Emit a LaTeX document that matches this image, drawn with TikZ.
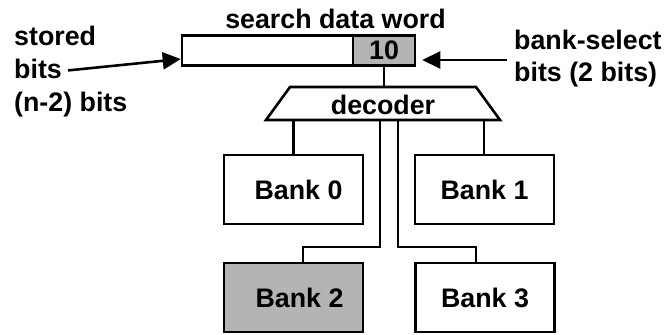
\documentclass[tikz,border=0pt]{standalone}
\usepackage{fontspec}
\setmainfont{Liberation Sans}
\usetikzlibrary{arrows.meta,calc}
\definecolor{grayfill}{HTML}{B4B4B4}
\begin{document}
\begin{tikzpicture}[x=1pt,y=-1pt,
  every node/.style={font=\fontsize{26.8}{30}\selectfont\bfseries},
  box/.style={draw, line width=2.6pt, inner sep=0pt},
  bank/.style={box, minimum width=139pt, minimum height=69pt, fill=white},
  txt/.style={inner sep=0pt},
  wire/.style={line width=2.6pt},
  arr/.style={line width=2.6pt, -{Triangle[length=18pt,width=17pt]}}]
\useasboundingbox (0,0) rectangle (668,334);
% search data word
\node[txt, anchor=base] (title) at (335.5,29) {search data word};
\node[box, minimum width=171pt, minimum height=30pt] (word) at (267.5,50.5) {};
\node[box, fill=grayfill, minimum width=62pt, minimum height=30pt] (sel) at (384,50.5) {10};
% labels
\node[txt, anchor=base west] (l1) at (14,46) {stored};
\node[txt, anchor=base west] (l2) at (14,79) {bits};
\node[txt, anchor=base west] (l3) at (14,111) {(n-2) bits};
\node[txt, anchor=base west] (r1) at (514,50) {bank-select};
\node[txt, anchor=base west] (r2) at (514,82) {bits (2 bits)};
\coordinate (rtail) at (507,60);
% decoder
\coordinate (dtl) at (290,87);
\coordinate (dtr) at (476,87);
\coordinate (dbr) at (500,120);
\coordinate (dbl) at (266,120);
\draw[wire, line join=miter] (dtl) -- (dtr) -- (dbr) -- (dbl) -- cycle;
\node[txt, anchor=base] (dec) at (383,114) {decoder};
\coordinate (d0) at (293.5,120);
\coordinate (d1) at (484,120);
\coordinate (d2) at (380,120);
\coordinate (d3) at (398,120);
% banks
\node[bank] (b0) at (293.5,189.5) {\hspace*{10pt}Bank 0};
\node[bank] (b1) at (484.5,189.5) {Bank 1};
\node[bank, fill=grayfill] (b2) at (293.5,297.5) {\hspace*{12pt}Bank 2};
\node[bank] (b3) at (485,297.5) {Bank 3};
% connectors
\draw[wire] (sel.south) -- (sel.south |- dtl);
\draw[wire] (d0) -- (d0 |- b0.north);
\draw[wire] (d1) -- (d1 |- b1.north);
\draw[wire] (d2) -- (380,247) -| ([xshift=9.5pt]b2.north);
\draw[wire] (d3) -- (398,247) -| ([xshift=-9pt]b3.north);
% arrows
\draw[arr] ([xshift=6pt,yshift=-1pt]l2.east) -- ([yshift=-8.5pt]word.west);
\draw[arr] (rtail) -- ([xshift=6pt,yshift=-9.5pt]sel.east);
\end{tikzpicture}
\end{document}
